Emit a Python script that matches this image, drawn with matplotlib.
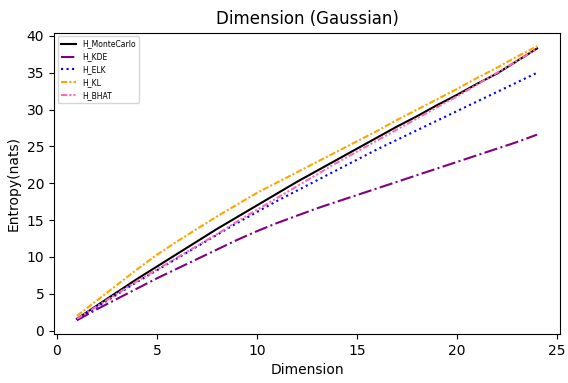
import numpy as np
from matplotlib import pyplot as plt

dims = list(range(1, 25))

h_montecarlo = [1.6, 3.4, 5.2, 7.0, 8.7, 10.4, 12.1, 13.8, 15.4, 17.0, 18.6, 20.2,
                21.7, 23.2, 24.7, 26.2, 27.7, 29.1, 30.6, 32.0, 33.5, 34.9, 36.6, 38.3]
h_kde = [1.4, 2.9, 4.3, 5.7, 7.1, 8.4, 9.7, 11.0, 12.3, 13.5, 14.6, 15.6,
         16.6, 17.5, 18.4, 19.3, 20.2, 21.1, 22.0, 22.9, 23.8, 24.7, 25.6, 26.6]
h_elk = [1.5, 3.2, 4.9, 6.6, 8.2, 9.8, 11.4, 13.0, 14.6, 16.1, 17.6, 19.0,
         20.4, 21.8, 23.2, 24.6, 25.9, 27.2, 28.5, 29.8, 31.1, 32.4, 33.7, 35.0]
h_kl = [2.0, 4.1, 6.2, 8.3, 10.3, 12.1, 13.8, 15.5, 17.1, 18.7, 20.1, 21.5,
        22.9, 24.3, 25.7, 27.1, 28.6, 30.0, 31.4, 32.8, 34.3, 35.7, 37.2, 38.6]
h_bhat = [1.6, 3.3, 5.0, 6.7, 8.3, 9.9, 11.5, 13.1, 14.8, 16.4, 18.0, 19.6,
          21.2, 22.8, 24.3, 25.8, 27.3, 28.8, 30.3, 31.8, 33.4, 35.0, 36.6, 38.3]

fig = plt.figure(figsize=(5.68, 3.83), dpi=100)
ax = fig.add_subplot(1, 1, 1)
fig.subplots_adjust(left=0.095, right=0.986, top=0.915, bottom=0.128)

ax.plot(dims, h_montecarlo, color='black', linestyle='-', label='H_MonteCarlo')
ax.plot(dims, h_kde, color='purple', linestyle='-.', label='H_KDE')
ax.plot(dims, h_elk, color='blue', linestyle=':', label='H_ELK')
ax.plot(dims, h_kl, color='orange', linestyle=(0, (3, 1, 1, 1)), label='H_KL')
ax.plot(dims, h_bhat, color='hotpink', linestyle=(0, (3, 1, 1, 1, 1, 1)), label='H_BHAT')

ax.set_title('Dimension (Gaussian)')
ax.set_xlabel('Dimension')
ax.set_ylabel('Entropy(nats)')
ax.legend(loc='upper left', fontsize=5.5)

fig.savefig('out.png', dpi=100)
